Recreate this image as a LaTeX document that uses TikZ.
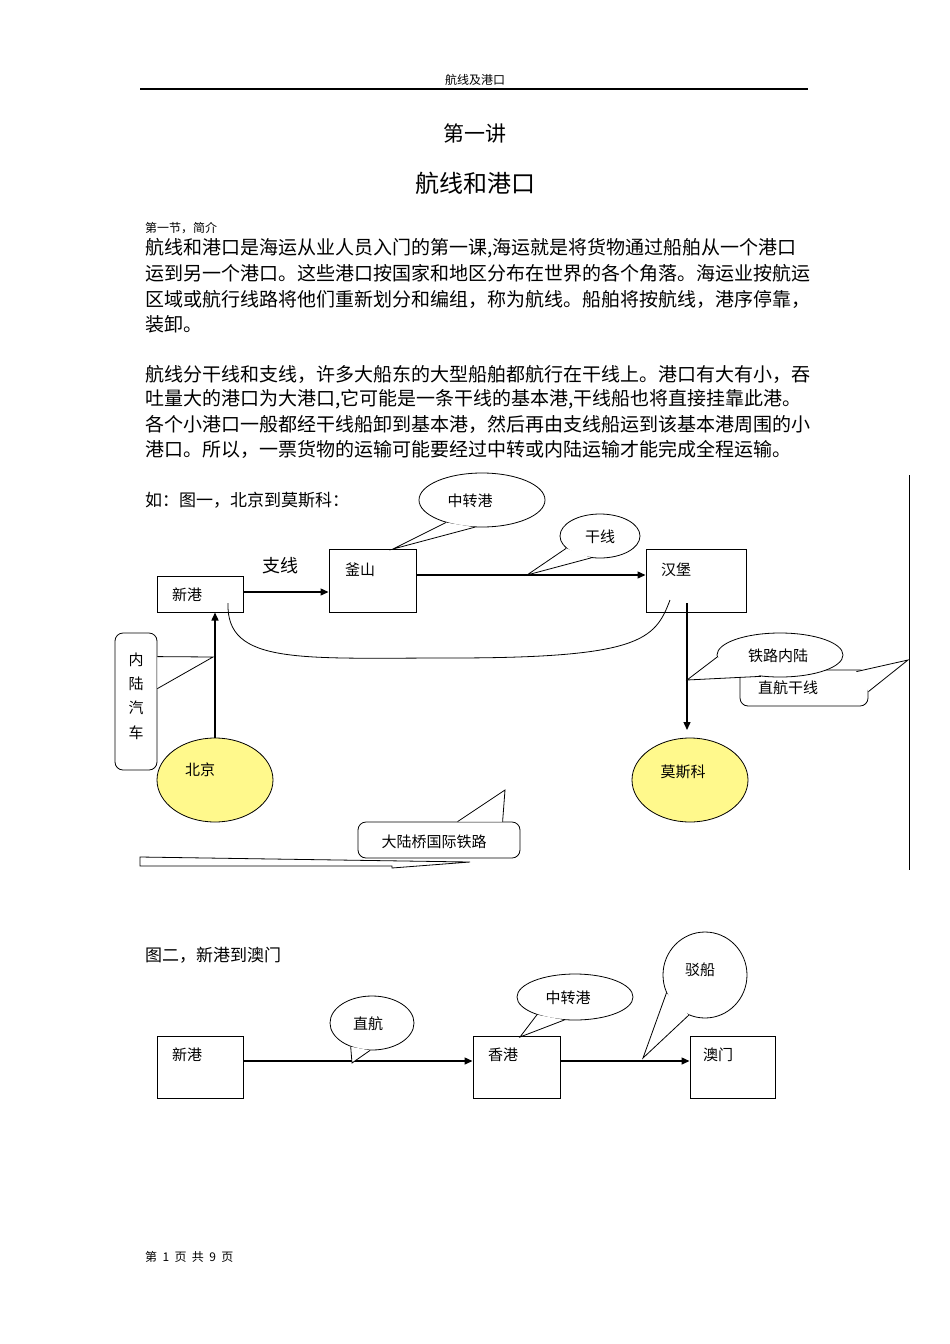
\documentclass[tikz,border=0pt]{standalone}
\usepackage{fontspec}
\setmainfont{Noto Sans CJK SC}
\usetikzlibrary{shapes.geometric,calc,arrows.meta}
\tikzset{
 port/.style={draw,line width=1pt,inner sep=0pt},
 bub/.style={ellipse,draw,fill=white,line width=0.8pt,inner sep=0pt,font=\fontsize{15}{15}\selectfont},
 rbub/.style={rectangle,rounded corners=8pt,draw,fill=white,line width=0.8pt,inner sep=0pt,font=\fontsize{15}{15}\selectfont},
 city/.style={ellipse,draw,fill=yellow!45,line width=0.8pt,inner sep=0pt},
 arr/.style={line width=1.4pt,-{Triangle[length=8pt,width=7pt]}},
 lbl/.style={font=\fontsize{15}{15}\selectfont,inner sep=0pt},
 body/.style={anchor=west,inner sep=0pt,font=\fontsize{19}{19}\selectfont}
}
\newcommand{\tail}[3]{\fill[white] (#1)--(#2)--(#3)--cycle; \draw[line width=0.8pt] (#1)--(#2)--(#3);}
\begin{document}
\begin{tikzpicture}[x=1pt,y=-1pt]
\useasboundingbox (0,0) rectangle (950,1344);
\fill[white] (0,0) rectangle (950,1344);
% header
\node[lbl,font=\fontsize{12}{12}\selectfont] (hdr) at (475,80) {航线及港口};
\draw[line width=1.3pt] (140,89) -- (808,89);
\node[inner sep=0pt,font=\fontsize{21}{21}\selectfont] (t1) at (475,133) {第一讲};
\node[inner sep=0pt,font=\fontsize{24}{24}\selectfont] (t2) at (475,183) {航线和港口};
\node[anchor=west,inner sep=0pt,font=\fontsize{12}{12}\selectfont] (sec) at (145,228) {第一节，简介};
\node[body] (b1) at (145,248) {航线和港口是海运从业人员入门的第一课,海运就是将货物通过船舶从一个港口};
\node[body] (b2) at (145,273) {运到另一个港口。这些港口按国家和地区分布在世界的各个角落。海运业按航运};
\node[body] (b3) at (145,299) {区域或航行线路将他们重新划分和编组，称为航线。船舶将按航线，港序停靠，};
\node[body] (b4) at (145,324) {装卸。};
\node[body] (b5) at (145,374) {航线分干线和支线，许多大船东的大型船舶都航行在干线上。港口有大有小，吞};
\node[body] (b6) at (145,399) {吐量大的港口为大港口,它可能是一条干线的基本港,干线船也将直接挂靠此港。};
\node[body] (b7) at (145,424) {各个小港口一般都经干线船卸到基本港，然后再由支线船运到该基本港周围的小};
\node[body] (b8) at (145,449) {港口。所以，一票货物的运输可能要经过中转或内陆运输才能完成全程运输。};
% figure 1
\node[body,font=\fontsize{17}{17}\selectfont] (f1) at (145,500) {如：图一，北京到莫斯科：};
\draw[line width=0.8pt] (909,475) -- (909,870);
\node[port,minimum width=86pt,minimum height=36pt] (xg) at (200,594) {};
\node[lbl] at (187,595) {新港};
\node[port,minimum width=87pt,minimum height=63pt] (fs) at (372.5,580.5) {};
\node[lbl] at (360,570) {釜山};
\node[port,minimum width=100pt,minimum height=63pt] (hb) at (696,580.5) {};
\node[lbl] at (676,570) {汉堡};
\node[lbl,font=\fontsize{18}{18}\selectfont] (zx) at (280,566) {支线};
\draw[arr] (xg.east |- 0,592) -- (fs.west |- 0,592);
\draw[arr] (fs.east |- 0,575) -- (hb.west |- 0,575);
\coordinate (c1) at (228,603);
\coordinate (c2) at (670,600);
\draw[line width=0.8pt] (c1) .. controls (226,665) and (300,658) .. (450,658) .. controls (640,658) and (655,640) .. (c2);
\node[city,minimum width=116pt,minimum height=84pt] (bj) at (215,780) {};
\node[lbl] at (200,770) {北京};
\node[city,minimum width=116pt,minimum height=84pt] (msk) at (690,780) {};
\node[lbl] at (683,772) {莫斯科};
\draw[arr] (bj.north) -- (xg.south -| bj.north);
\coordinate (hbd) at (687,603);
\draw[arr] (hbd) -- (687,730);
% callouts fig1
\node[bub,minimum width=126pt,minimum height=54pt] (zzg) at (482,500) {};
\node[lbl] at (470,501) {中转港};
\tail{zzg.212}{393,549}{zzg.255}
\node[bub,minimum width=80pt,minimum height=44pt] (gx) at (600,536) {};
\node[lbl] at (600,537) {干线};
\tail{gx.200}{527,575}{gx.248}
\node[rbub,minimum width=128pt,minimum height=36pt] (zhgx) at (804,688) {};
\tail{$(zhgx.north east)+(-12,2)$}{908,660}{$(zhgx.north east)+(0,22)$}
\node[lbl] at (788,688) {直航干线};
\node[bub,minimum width=126pt,minimum height=44pt] (tlnl) at (780,655) {};
\node[lbl] at (778,656) {铁路内陆};
\tail{tlnl.182}{687,680}{tlnl.228}
\node[rbub,minimum width=42pt,minimum height=137pt] (nlqc) at (136,701.5) {};
\tail{$(nlqc.north east)+(0,24)$}{213,657}{$(nlqc.north east)+(0,56)$}
\node[lbl] at (136,660) {内};
\node[lbl] at (136,684) {陆};
\node[lbl] at (136,708) {汽};
\node[lbl] at (136,733) {车};
\node[rbub,minimum width=162pt,minimum height=36pt] (dlq) at (439,840) {};
\tail{$(dlq.north west)+(100,0)$}{505,790}{$(dlq.north west)+(145,0)$}
\node[lbl] at (434,842) {大陆桥国际铁路};
\draw[line width=0.8pt] (140,857) -- (470,862) -- (392,868) -- (392,866) -- (140,866) -- cycle;
% figure 2
\node[body,font=\fontsize{17}{17}\selectfont] (f2) at (145,955) {图二，新港到澳门};
\node[port,minimum width=86pt,minimum height=62pt] (xg2) at (200,1067) {};
\node[lbl] at (187,1055) {新港};
\node[port,minimum width=87pt,minimum height=62pt] (hk) at (516.5,1067) {};
\node[lbl] at (503,1055) {香港};
\node[port,minimum width=85pt,minimum height=62pt] (mo) at (732.5,1067) {};
\node[lbl] at (718,1055) {澳门};
\draw[arr] (xg2.east |- 0,1061) -- (hk.west |- 0,1061);
\draw[arr] (hk.east |- 0,1061) -- (mo.west |- 0,1061);
\node[bub,minimum width=84pt,minimum height=54pt] (zh) at (372,1023) {};
\node[lbl] at (368,1024) {直航};
\tail{zh.228}{352,1063}{zh.266}
\node[bub,minimum width=116pt,minimum height=46pt] (zzg2) at (575,997) {};
\node[lbl] at (568,998) {中转港};
\tail{zzg2.205}{520,1037}{zzg2.245}
\node[bub,minimum width=84pt,minimum height=86pt] (bc) at (705,975) {};
\node[lbl] at (700,970) {驳船};
\tail{bc.205}{643,1058}{bc.248}
% footer
\node[anchor=west,inner sep=0pt,font=\fontsize{12}{12}\selectfont] (ft) at (145,1257) {第\ \ 1\ \ 页\ \ 共\ \ 9\ \ 页};
\end{tikzpicture}
\end{document}
